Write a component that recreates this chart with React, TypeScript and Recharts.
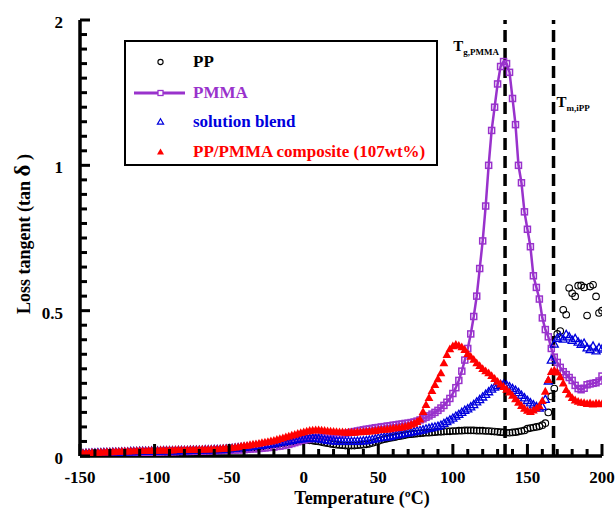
import React from 'react';
import { ComposedChart, Line, XAxis, YAxis, ReferenceLine, Legend } from 'recharts';

const SERIF = "'Liberation Serif', 'Times New Roman', Times, serif";
const PURPLE = '#9932CC';
const BLUE = '#0000DD';
const RED = '#FF0000';

const temps = [
  -150, -148, -146, -144, -142, -140, -138, -136, -134, -132,
  -130, -128, -126, -124, -122, -120, -118, -116, -114, -112,
  -110, -108, -106, -104, -102, -100, -98, -96, -94, -92,
  -90, -88, -86, -84, -82, -80, -78, -76, -74, -72,
  -70, -68, -66, -64, -62, -60, -58, -56, -54, -52,
  -50, -48, -46, -44, -42, -40, -38, -36, -34, -32,
  -30, -28, -26, -24, -22, -20, -18, -16, -14, -12,
  -10, -8, -6, -4, -2, 0, 2, 4, 6, 8,
  10, 12, 14, 16, 18, 20, 22, 24, 26, 28,
  30, 32, 34, 36, 38, 40, 42, 44, 46, 48,
  50, 52, 54, 56, 58, 60, 62, 64, 66, 68,
  70, 72, 74, 76, 78, 80, 82, 84, 86, 88,
  90, 92, 94, 96, 98, 100, 102, 104, 106, 108,
  110, 112, 114, 116, 118, 120, 122, 124, 126, 128,
  130, 132, 134, 136, 138, 140, 142, 144, 146, 148,
  150, 152, 154, 156, 158, 160, 162, 164, 166, 168,
  170, 172, 174, 176, 178, 180, 182, 184, 186, 188,
  190, 192, 194, 196, 198, 200,
];

const ppVals = [
  0.004, 0.004, 0.005, 0.005, 0.006, 0.006, 0.006, 0.007, 0.007, 0.008,
  0.008, 0.008, 0.009, 0.009, 0.009, 0.010, 0.010, 0.010, 0.011, 0.011,
  0.012, 0.012, 0.012, 0.012, 0.013, 0.013, 0.013, 0.013, 0.014, 0.014,
  0.014, 0.014, 0.014, 0.015, 0.015, 0.015, 0.015, 0.015, 0.016, 0.016,
  0.016, 0.016, 0.017, 0.017, 0.017, 0.018, 0.018, 0.018, 0.019, 0.020,
  0.021, 0.022, 0.023, 0.024, 0.025, 0.026, 0.027, 0.028, 0.029, 0.030,
  0.032, 0.033, 0.035, 0.036, 0.038, 0.040, 0.041, 0.043, 0.045, 0.046,
  0.048, 0.050, 0.051, 0.053, 0.054, 0.055, 0.055, 0.054, 0.053, 0.051,
  0.050, 0.048, 0.046, 0.044, 0.042, 0.040, 0.039, 0.038, 0.037, 0.036,
  0.036, 0.036, 0.036, 0.037, 0.038, 0.039, 0.040, 0.042, 0.045, 0.048,
  0.052, 0.055, 0.058, 0.060, 0.062, 0.064, 0.066, 0.068, 0.070, 0.072,
  0.074, 0.075, 0.076, 0.077, 0.078, 0.079, 0.080, 0.080, 0.081, 0.082,
  0.083, 0.083, 0.084, 0.085, 0.085, 0.086, 0.086, 0.087, 0.087, 0.088,
  0.088, 0.088, 0.088, 0.087, 0.087, 0.087, 0.086, 0.086, 0.085, 0.084,
  0.083, 0.082, 0.081, 0.080, 0.080, 0.081, 0.082, 0.084, 0.086, 0.088,
  0.094, 0.096, 0.098, 0.100, 0.102, 0.106, 0.113, 0.150, 0.205, 0.232,
  0.420, 0.430, 0.503, 0.486, 0.578, 0.560, 0.549, 0.586, 0.587, 0.580,
  0.483, 0.583, 0.589, 0.549, 0.492, 0.500,
];

const pmmaVals = [
  0.005, 0.005, 0.006, 0.006, 0.007, 0.007, 0.008, 0.008, 0.008, 0.009,
  0.009, 0.009, 0.010, 0.010, 0.010, 0.011, 0.011, 0.012, 0.012, 0.012,
  0.013, 0.013, 0.013, 0.013, 0.014, 0.014, 0.014, 0.014, 0.015, 0.015,
  0.015, 0.015, 0.015, 0.016, 0.016, 0.016, 0.016, 0.016, 0.017, 0.017,
  0.017, 0.017, 0.018, 0.018, 0.018, 0.019, 0.019, 0.019, 0.020, 0.020,
  0.020, 0.021, 0.021, 0.021, 0.022, 0.022, 0.023, 0.024, 0.025, 0.025,
  0.026, 0.027, 0.028, 0.029, 0.030, 0.031, 0.033, 0.034, 0.036, 0.038,
  0.040, 0.043, 0.046, 0.049, 0.052, 0.055, 0.057, 0.059, 0.061, 0.063,
  0.064, 0.065, 0.066, 0.067, 0.068, 0.070, 0.072, 0.074, 0.076, 0.078,
  0.080, 0.082, 0.084, 0.086, 0.088, 0.090, 0.092, 0.093, 0.095, 0.097,
  0.098, 0.100, 0.101, 0.103, 0.104, 0.106, 0.107, 0.109, 0.110, 0.112,
  0.113, 0.115, 0.117, 0.120, 0.124, 0.128, 0.133, 0.138, 0.144, 0.150,
  0.157, 0.165, 0.174, 0.185, 0.198, 0.215, 0.235, 0.260, 0.292, 0.330,
  0.370, 0.420, 0.480, 0.550, 0.645, 0.740, 0.860, 1.000, 1.120, 1.200,
  1.280, 1.340, 1.357, 1.350, 1.320, 1.230, 1.140, 1.000, 0.940, 0.840,
  0.780, 0.720, 0.620, 0.580, 0.540, 0.475, 0.435, 0.410, 0.370, 0.340,
  0.322, 0.305, 0.290, 0.280, 0.270, 0.260, 0.243, 0.232, 0.228, 0.233,
  0.245, 0.248, 0.250, 0.252, 0.258, 0.275,
];

const blendVals = [
  0.008, 0.008, 0.009, 0.009, 0.010, 0.010, 0.011, 0.011, 0.012, 0.012,
  0.012, 0.013, 0.013, 0.013, 0.014, 0.014, 0.014, 0.015, 0.015, 0.015,
  0.016, 0.016, 0.016, 0.016, 0.017, 0.017, 0.017, 0.017, 0.018, 0.018,
  0.018, 0.018, 0.018, 0.019, 0.019, 0.019, 0.019, 0.020, 0.020, 0.020,
  0.020, 0.020, 0.021, 0.021, 0.021, 0.022, 0.022, 0.022, 0.023, 0.024,
  0.025, 0.026, 0.027, 0.028, 0.029, 0.030, 0.031, 0.032, 0.033, 0.035,
  0.036, 0.037, 0.039, 0.040, 0.042, 0.043, 0.045, 0.047, 0.049, 0.050,
  0.052, 0.054, 0.056, 0.057, 0.059, 0.060, 0.061, 0.061, 0.061, 0.060,
  0.060, 0.058, 0.056, 0.054, 0.053, 0.052, 0.051, 0.051, 0.050, 0.050,
  0.050, 0.050, 0.050, 0.051, 0.051, 0.052, 0.053, 0.055, 0.057, 0.059,
  0.062, 0.063, 0.065, 0.066, 0.067, 0.070, 0.072, 0.074, 0.076, 0.078,
  0.080, 0.082, 0.084, 0.086, 0.088, 0.090, 0.093, 0.095, 0.098, 0.100,
  0.102, 0.106, 0.112, 0.118, 0.124, 0.130, 0.137, 0.143, 0.150, 0.157,
  0.162, 0.169, 0.177, 0.186, 0.194, 0.203, 0.212, 0.221, 0.230, 0.237,
  0.242, 0.246, 0.247, 0.244, 0.238, 0.232, 0.226, 0.218, 0.209, 0.200,
  0.191, 0.183, 0.176, 0.170, 0.165, 0.170, 0.195, 0.258, 0.330, 0.385,
  0.405, 0.410, 0.402, 0.418, 0.410, 0.398, 0.404, 0.392, 0.384, 0.388,
  0.372, 0.366, 0.378, 0.362, 0.372, 0.368,
];

const compVals = [
  0.010, 0.010, 0.011, 0.011, 0.012, 0.012, 0.012, 0.013, 0.013, 0.014,
  0.014, 0.014, 0.015, 0.015, 0.016, 0.016, 0.016, 0.017, 0.017, 0.018,
  0.018, 0.018, 0.018, 0.019, 0.019, 0.019, 0.019, 0.020, 0.020, 0.020,
  0.020, 0.020, 0.021, 0.021, 0.021, 0.021, 0.021, 0.022, 0.022, 0.022,
  0.022, 0.023, 0.023, 0.023, 0.024, 0.024, 0.024, 0.025, 0.026, 0.026,
  0.027, 0.028, 0.030, 0.031, 0.033, 0.035, 0.036, 0.038, 0.040, 0.041,
  0.043, 0.045, 0.047, 0.049, 0.051, 0.053, 0.056, 0.059, 0.062, 0.065,
  0.068, 0.071, 0.074, 0.077, 0.080, 0.082, 0.085, 0.087, 0.088, 0.089,
  0.089, 0.088, 0.087, 0.086, 0.085, 0.084, 0.083, 0.082, 0.082, 0.081,
  0.081, 0.081, 0.081, 0.082, 0.082, 0.083, 0.084, 0.085, 0.086, 0.087,
  0.089, 0.090, 0.091, 0.092, 0.093, 0.095, 0.096, 0.097, 0.099, 0.101,
  0.104, 0.108, 0.112, 0.118, 0.126, 0.152, 0.176, 0.200, 0.224, 0.245,
  0.265, 0.285, 0.320, 0.348, 0.368, 0.378, 0.383, 0.380, 0.375, 0.365,
  0.352, 0.342, 0.332, 0.320, 0.310, 0.300, 0.292, 0.285, 0.276, 0.266,
  0.256, 0.247, 0.238, 0.229, 0.219, 0.208, 0.196, 0.184, 0.173, 0.163,
  0.156, 0.152, 0.157, 0.164, 0.172, 0.190, 0.222, 0.262, 0.290, 0.295,
  0.288, 0.272, 0.250, 0.228, 0.212, 0.200, 0.192, 0.187, 0.184, 0.183,
  0.180, 0.182, 0.178, 0.181, 0.180, 0.179,
];

const xTicks = [
  -150, -140, -130, -120, -110, -100, -90, -80, -70, -60, -50, -40, -30, -20, -10,
  0, 10, 20, 30, 40, 50, 60, 70, 80, 90, 100, 110, 120, 130, 140, 150, 160, 170,
  180, 190, 200,
];
const yTicks = [
  0, 0.05, 0.1, 0.15, 0.2, 0.25, 0.3, 0.35, 0.4, 0.45, 0.5, 0.55, 0.6, 0.65, 0.7,
  0.75, 0.8, 0.85, 0.9, 0.95, 1, 1.05, 1.1, 1.15, 1.2, 1.25, 1.3, 1.35, 1.4, 1.45, 1.5,
];
const yLabelValues = [0, 0.5, 1, 1.5];
const yLabelTexts = ['0', '0.5', '1', '2'];

const data = temps.map((t, i) => ({
  t,
  pp: ppVals[i],
  pmma: pmmaVals[i],
  blend: blendVals[i],
  comp: compVals[i],
}));

const isMajorX = (v: number) => Math.abs(v % 50) < 1e-6;
const yLabel = (v: number) => {
  const i = yLabelValues.findIndex((u) => Math.abs(u - v) < 1e-6);
  return i >= 0 ? yLabelTexts[i] : null;
};

function BottomTick(props: any) {
  const { x, y, payload } = props;
  const v = payload.value;
  const major = isMajorX(v);
  return (
    <g>
      <line x1={x} x2={x} y1={y} y2={y - (major ? 12 : 7)} stroke="#000" strokeWidth={3} />
      {major && (
        <text x={x} y={y + 27} textAnchor="middle" fontFamily={SERIF} fontWeight="bold" fontSize={17} fill="#000">
          {String(v)}
        </text>
      )}
    </g>
  );
}

function TopTick(props: any) {
  const { x, y, payload } = props;
  const major = isMajorX(payload.value);
  return <line x1={x} x2={x} y1={y} y2={y + (major ? 11 : 7)} stroke="#000" strokeWidth={3} />;
}

function LeftTick(props: any) {
  const { x, y, payload } = props;
  const lab = yLabel(payload.value);
  return (
    <g>
      <line x1={x} x2={x + (lab ? 10 : 7)} y1={y} y2={y} stroke="#000" strokeWidth={3} />
      {lab && (
        <text x={x - 17} y={y + 8} textAnchor="end" fontFamily={SERIF} fontWeight="bold" fontSize={17} fill="#000">
          {lab}
        </text>
      )}
    </g>
  );
}

function RightTick(props: any) {
  const { x, y, payload } = props;
  const lab = yLabel(payload.value);
  return <line x1={x} x2={x - (lab ? 10 : 7)} y1={y} y2={y} stroke="#000" strokeWidth={3} />;
}

function CircleDot(p: any) {
  if (p.cx == null || p.cy == null) return <g />;
  return <circle cx={p.cx} cy={p.cy} r={3.3} fill="none" stroke="#000" strokeWidth={1.1} />;
}
function SquareDot(p: any) {
  if (p.cx == null || p.cy == null) return <g />;
  return <rect x={p.cx - 3} y={p.cy - 3} width={6} height={6} fill="none" stroke={PURPLE} strokeWidth={1.5} />;
}
function OpenTriDot(p: any) {
  if (p.cx == null || p.cy == null) return <g />;
  const { cx, cy } = p;
  return (
    <path d={`M${cx},${cy - 4.2} L${cx + 4},${cy + 3} L${cx - 4},${cy + 3} Z`} fill="none" stroke={BLUE} strokeWidth={1.3} />
  );
}
function FilledTriDot(p: any) {
  if (p.cx == null || p.cy == null) return <g />;
  const { cx, cy } = p;
  return <path d={`M${cx},${cy - 4.6} L${cx + 4.4},${cy + 3.2} L${cx - 4.4},${cy + 3.2} Z`} fill={RED} stroke="none" />;
}

function XTitle(props: any) {
  const vb = props.viewBox || {};
  const cx = vb.x + vb.width / 2 + 21;
  return (
    <text x={cx} y={496} textAnchor="middle" fontFamily={SERIF} fontWeight="bold" fontSize={18} fill="#000">
      Temperature (ºC)
    </text>
  );
}

function YTitle(props: any) {
  const vb = props.viewBox || {};
  const cx = 22;
  const cy = vb.y + vb.height / 2 - 4;
  return (
    <text
      x={cx}
      y={cy}
      transform={`rotate(-90, ${cx}, ${cy})`}
      textAnchor="middle"
      fontFamily={SERIF}
      fontWeight="bold"
      fontSize={18}
      fill="#000"
    >
      Loss tangent (tan <tspan fontSize={23}>δ</tspan> )
    </text>
  );
}

function TgLabel(props: any) {
  const vb = props.viewBox || {};
  return (
    <text x={vb.x - 6} y={vb.y + 31} textAnchor="end" fontFamily={SERIF} fontWeight="bold" fontSize={15} fill="#000">
      T<tspan fontSize={9} dy={4}>g,PMMA</tspan>
    </text>
  );
}

function TmLabel(props: any) {
  const vb = props.viewBox || {};
  return (
    <text x={vb.x + 3} y={vb.y + 87} textAnchor="start" fontFamily={SERIF} fontWeight="bold" fontSize={15} fill="#000">
      T<tspan fontSize={9} dy={4}>m,iPP</tspan>
    </text>
  );
}

function LegendBox() {
  const row = (top: number, sym: React.ReactNode, text: string, color: string) => (
    <div style={{ position: 'absolute', left: 0, top: top - 12, height: 24, width: '100%' }}>
      <svg width={66} height={24} style={{ position: 'absolute', left: 0, top: 0 }}>
        {sym}
      </svg>
      <div
        style={{
          position: 'absolute',
          left: 67,
          top: 0,
          lineHeight: '24px',
          color,
          whiteSpace: 'nowrap',
        }}
      >
        {text}
      </div>
    </div>
  );
  return (
    <div
      style={{
        position: 'relative',
        width: 314,
        height: 126,
        border: '2.5px solid #000',
        boxSizing: 'border-box',
        background: '#fff',
        fontFamily: SERIF,
        fontWeight: 'bold',
        fontSize: 17,
      }}
    >
      {row(19.5, <circle cx={34.5} cy={12} r={2.6} fill="none" stroke="#000" strokeWidth={1.1} />, 'PP', '#000')}
      {row(
        51,
        <g>
          <line x1={8} x2={59} y1={12} y2={12} stroke={PURPLE} strokeWidth={3} />
          <rect x={32} y={9.5} width={5} height={5} fill="#fff" stroke={PURPLE} strokeWidth={1.3} />
        </g>,
        'PMMA',
        PURPLE,
      )}
      {row(
        80,
        <path d="M34.5,8.8 L37.6,14.2 L31.4,14.2 Z" fill="none" stroke={BLUE} strokeWidth={1.2} />,
        'solution blend',
        BLUE,
      )}
      {row(109.5, <path d="M34.5,8.5 L38,14.5 L31,14.5 Z" fill={RED} />, 'PP/PMMA composite (107wt%)', RED)}
    </div>
  );
}

export default function App() {
  return (
    <div style={{ width: 607, height: 500 }}>
      <style>{'html { overflow: hidden; } body { min-width: 607px; } #root { width: 607px; }'}</style>
      <ComposedChart
        width={607}
        height={500}
        data={data}
        margin={{ top: 12, right: 13, bottom: 0, left: 0 }}
        style={{ overflow: 'visible' }}
      >
        <XAxis
          xAxisId="b"
          dataKey="t"
          type="number"
          domain={[-150, 200]}
          ticks={xTicks}
          interval={0}
          allowDataOverflow
          tickSize={0}
          tickMargin={0}
          tickLine={false}
          axisLine={{ stroke: '#000', strokeWidth: 3.5 }}
          height={52}
          tick={<BottomTick />}
          label={{ content: <XTitle /> }}
        />
        <XAxis
          xAxisId="t"
          dataKey="t"
          orientation="top"
          type="number"
          domain={[-150, 200]}
          ticks={xTicks}
          interval={0}
          allowDataOverflow
          tickSize={0}
          tickMargin={0}
          tickLine={false}
          axisLine={{ stroke: '#000', strokeWidth: 3.5 }}
          height={0}
          tick={<TopTick />}
        />
        <YAxis
          yAxisId="l"
          type="number"
          domain={[0, 1.5]}
          ticks={yTicks}
          interval={0}
          allowDataOverflow
          tickSize={0}
          tickMargin={0}
          tickLine={false}
          axisLine={{ stroke: '#000', strokeWidth: 3.5 }}
          width={72}
          tick={<LeftTick />}
          label={{ content: <YTitle /> }}
        />
        <YAxis
          yAxisId="r"
          orientation="right"
          type="number"
          domain={[0, 1.5]}
          ticks={yTicks}
          interval={0}
          allowDataOverflow
          tickSize={0}
          tickMargin={0}
          tickLine={false}
          axisLine={{ stroke: '#000', strokeWidth: 3.5 }}
          width={0}
          tick={<RightTick />}
        />
        <Legend
          layout="vertical"
          align="center"
          verticalAlign="middle"
          content={() => <LegendBox />}
          wrapperStyle={{ position: 'absolute', left: 116, top: 32, width: 314, height: 126 }}
        />
        <ReferenceLine
          xAxisId="b"
          yAxisId="l"
          x={135}
          stroke="#000"
          strokeWidth={3.5}
          strokeDasharray="12 6"
          label={{ content: <TgLabel /> }}
        />
        <ReferenceLine
          xAxisId="b"
          yAxisId="l"
          x={167.5}
          stroke="#000"
          strokeWidth={3.5}
          strokeDasharray="12 6"
          label={{ content: <TmLabel /> }}
        />
        <Line
          xAxisId="t"
          yAxisId="r"
          dataKey="pp"
          stroke="none"
          dot={false}
          activeDot={false}
          legendType="none"
          isAnimationActive={false}
        />
        <Line
          xAxisId="b"
          yAxisId="l"
          dataKey="pp"
          name="PP"
          stroke="none"
          dot={<CircleDot />}
          activeDot={false}
          isAnimationActive={false}
        />
        <Line
          xAxisId="b"
          yAxisId="l"
          dataKey="pmma"
          name="PMMA"
          type="linear"
          stroke={PURPLE}
          strokeWidth={2.5}
          dot={<SquareDot />}
          activeDot={false}
          isAnimationActive={false}
        />
        <Line
          xAxisId="b"
          yAxisId="l"
          dataKey="blend"
          name="solution blend"
          stroke="none"
          dot={<OpenTriDot />}
          activeDot={false}
          isAnimationActive={false}
        />
        <Line
          xAxisId="b"
          yAxisId="l"
          dataKey="comp"
          name="PP/PMMA composite (107wt%)"
          stroke="none"
          dot={<FilledTriDot />}
          activeDot={false}
          isAnimationActive={false}
        />
      </ComposedChart>
    </div>
  );
}
